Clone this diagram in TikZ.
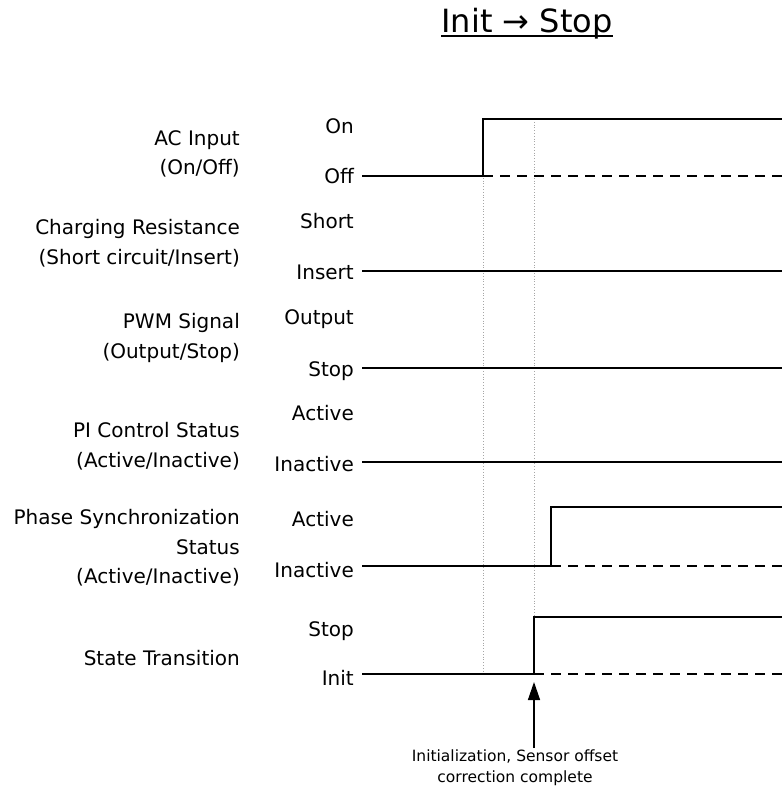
\documentclass[tikz,border=0pt]{standalone}
\usepackage{fontspec}
\setmainfont{DejaVu Sans}
\usetikzlibrary{arrows.meta}
\begin{document}
\begin{tikzpicture}[x=1pt,y=-1pt,
  sig/.style={line width=2.4pt,black},
  idle/.style={line width=1.4pt,black,dash pattern=on 10pt off 7pt},
  guide/.style={line width=0.8pt,gray!70,dotted},
  lbl/.style={anchor=east,align=right,inner sep=0pt,font=\fontsize{20}{29.5}\selectfont},
  lvl/.style={anchor=base east,inner sep=0pt,font=\fontsize{20}{24}\selectfont},
  note/.style={align=center,inner sep=0pt,font=\fontsize{15.5}{21}\selectfont}]
\useasboundingbox (0,0) rectangle (782,787);

% title
\node[inner sep=0pt,anchor=base,font=\fontsize{32}{36}\selectfont] (title) at (527,32) {Init → Stop};
\draw[line width=1.6pt] ([yshift=-4pt]title.base west) -- ([yshift=-4pt]title.base east);

% signal names
\node[lbl] (nAC)  at (240,154) {AC Input\\(On/Off)};
\node[lbl] (nCR)  at (240,243) {Charging Resistance\\(Short circuit/Insert)};
\node[lbl] (nPWM) at (240,338) {PWM Signal\\(Output/Stop)};
\node[lbl] (nPI)  at (240,446) {PI Control Status\\(Active/Inactive)};
\node[lbl] (nPS)  at (240,548) {Phase Synchronization\\Status\\(Active/Inactive)};
\node[lbl] (nST)  at (240,658) {State Transition};

% level names
\node[lvl] (acHi)  at (354,133) {On};
\node[lvl] (acLo)  at (354,183) {Off};
\node[lvl] (crHi)  at (354,228) {Short};
\node[lvl] (crLo)  at (354,279) {Insert};
\node[lvl] (pwHi)  at (354,324) {Output};
\node[lvl] (pwLo)  at (354,376) {Stop};
\node[lvl] (piHi)  at (354,420) {Active};
\node[lvl] (piLo)  at (354,471) {Inactive};
\node[lvl] (psHi)  at (354,526) {Active};
\node[lvl] (psLo)  at (354,577) {Inactive};
\node[lvl] (stHi)  at (354,636) {Stop};
\node[lvl] (stLo)  at (354,685) {Init};

% event instants
\coordinate (tA) at (483,0);
\coordinate (tB) at (534,0);
\coordinate (tC) at (551,0);
\coordinate (xEnd) at (782,0);

% guide lines at the event instants
\draw[guide] (tA |- 0,119) -- (tA |- 0,673);
\draw[guide] (tB |- 0,119) -- (tB |- 0,673);

% AC input
\coordinate (ac0) at (362,176);
\coordinate (acS) at (tA |- ac0);
\draw[idle] (acS) -- (xEnd |- ac0);
\draw[sig] (ac0) -- (acS) -- ++(0,-57) -- (782,119);

% charging resistance, PWM, PI control
\coordinate (cr0) at (362,271);
\draw[sig] (cr0) -- (xEnd |- cr0);
\coordinate (pw0) at (362,368);
\draw[sig] (pw0) -- (xEnd |- pw0);
\coordinate (pi0) at (362,462);
\draw[sig] (pi0) -- (xEnd |- pi0);

% phase synchronization
\coordinate (ps0) at (362,566);
\coordinate (psS) at (tC |- ps0);
\draw[idle] (psS) -- (xEnd |- ps0);
\draw[sig] (ps0) -- (psS) -- ++(0,-59) -- (782,507);

% state transition
\coordinate (st0) at (362,674);
\coordinate (stS) at (tB |- st0);
\draw[idle] (stS) -- (xEnd |- st0);
\draw[sig] (st0) -- (stS) -- ++(0,-57) -- (782,617);

% completion marker
\node[note] (done) at (515,768) {Initialization, Sensor offset\\correction complete};
\coordinate (arrTip) at (534,682);
\coordinate (arrTail) at (534,748);
\draw[line width=1.4pt,-{Triangle[width=12pt,length=18pt]}] (arrTail) -- (arrTip);
\end{tikzpicture}
\end{document}
